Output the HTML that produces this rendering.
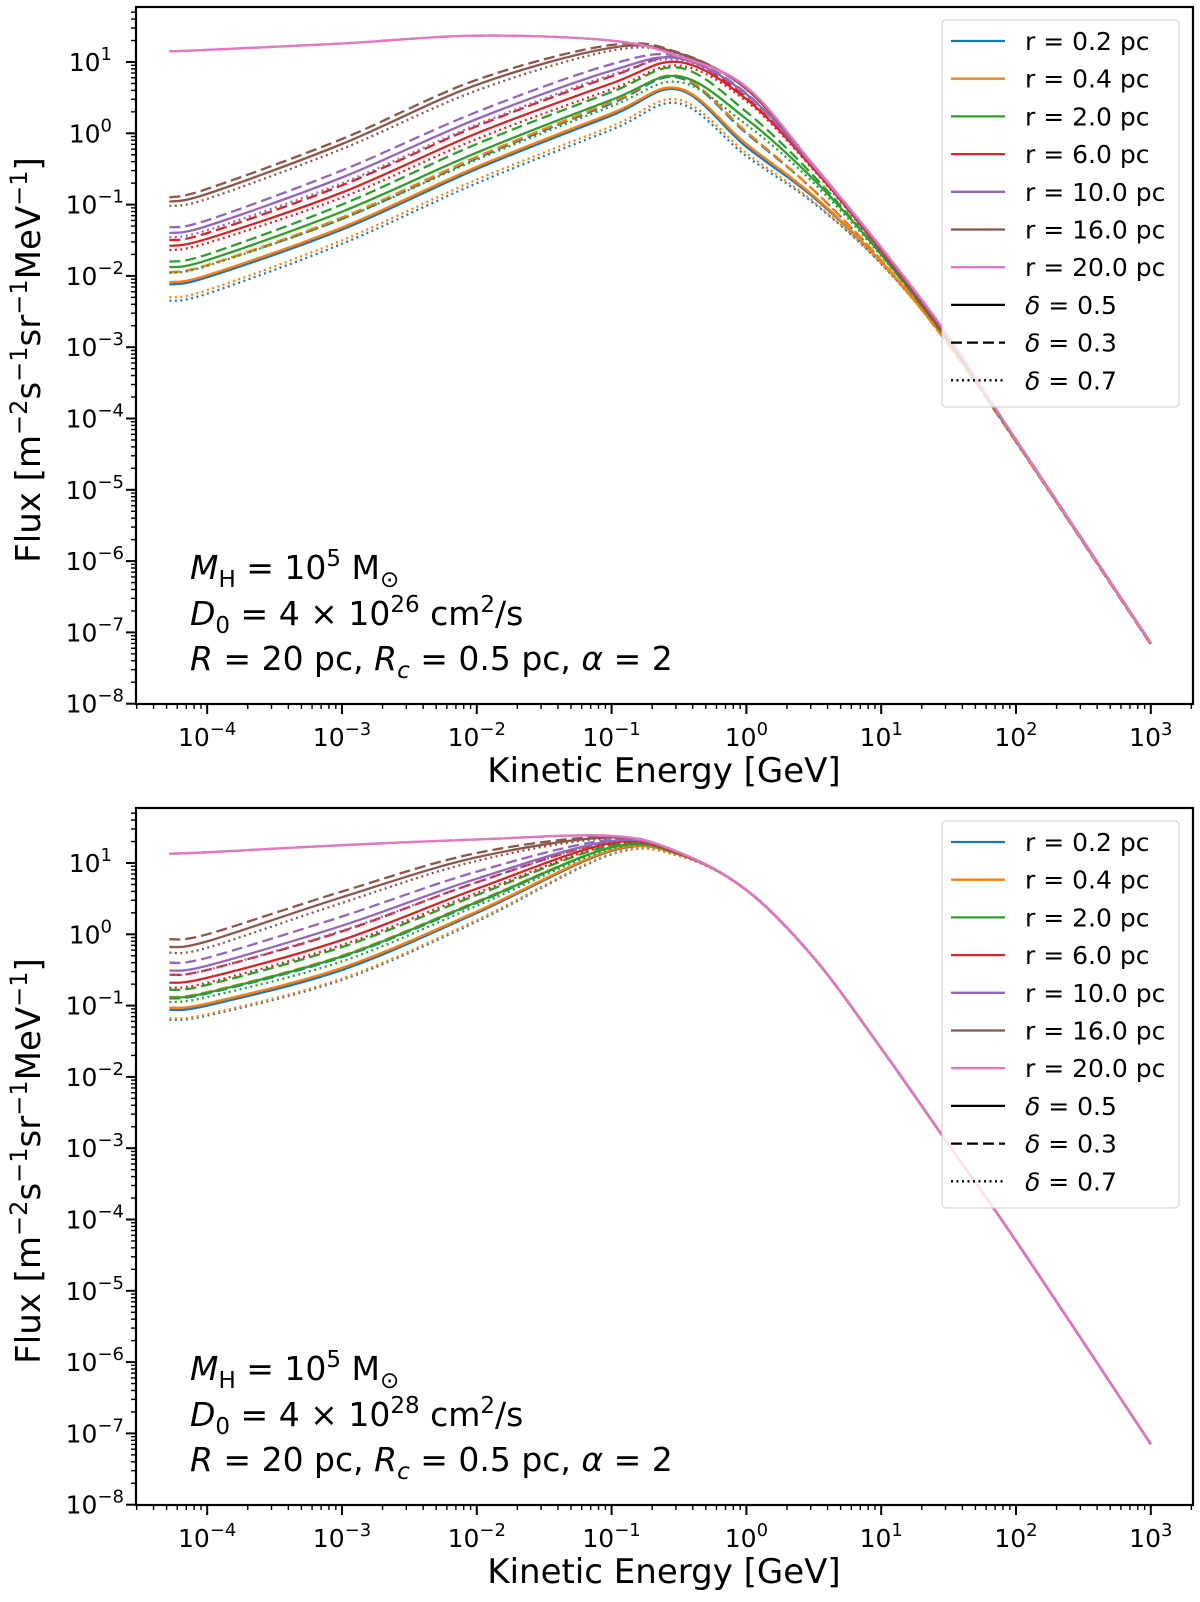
<!DOCTYPE html>
<html><head><meta charset="utf-8">
<style>
html,body{margin:0;padding:0;background:#fff;}
svg{display:block;font-family:"DejaVu Sans","Liberation Sans",sans-serif;}
</style></head>
<body>
<svg id="fig" width="1200" height="1602" viewBox="0 0 1200 1602" xmlns="http://www.w3.org/2000/svg"></svg>
<script>
// ---- shared data ----
const logEnergyGrid = [-4.28,-4,-3,-2,-1,-0.5,0,0.5,1,1.5,2,3];
const radiusLabels = ["r = 0.2 pc","r = 0.4 pc","r = 2.0 pc","r = 6.0 pc","r = 10.0 pc","r = 16.0 pc","r = 20.0 pc"];
const deltaLabels = ["0.5","0.3","0.7"];
const xTickExps = [-4,-3,-2,-1,0,1,2,3];
const yTickExps = [-8,-7,-6,-5,-4,-3,-2,-1,0,1];

// ---- top panel (D0 = 4e26) log10 flux; per radius: [solid, dashed, dotted] ----
const topBlue = [[-2.12,-2.02,-1.35,-0.5,0.25,0.61,-0.19,-0.9,-1.8,-2.95,-4.3,-7.15],[-1.95,-1.85,-1.2,-0.35,0.42,0.78,0.0,-0.8,-1.78,-2.97,-4.33,-7.17],[-2.35,-2.25,-1.55,-0.7,0.05,0.42,-0.32,-0.98,-1.83,-2.95,-4.3,-7.15]];
const topOrange = [[-2.09,-1.99,-1.32,-0.47,0.28,0.63,-0.15,-0.88,-1.8,-2.95,-4.3,-7.15],[-1.95,-1.85,-1.18,-0.33,0.44,0.8,0.02,-0.8,-1.78,-2.97,-4.33,-7.17],[-2.3,-2.2,-1.5,-0.65,0.1,0.47,-0.28,-0.96,-1.83,-2.95,-4.3,-7.15]];
const topGreen = [[-1.88,-1.78,-1.1,-0.27,0.47,0.8,0.2,-0.65,-1.7,-2.92,-4.3,-7.15],[-1.8,-1.7,-1.0,-0.15,0.58,0.92,0.3,-0.6,-1.7,-2.93,-4.32,-7.16],[-1.96,-1.86,-1.2,-0.37,0.38,0.72,0.12,-0.7,-1.72,-2.92,-4.3,-7.15]];
const topRed = [[-1.58,-1.48,-0.83,0.0,0.7,1.0,0.48,-0.5,-1.65,-2.9,-4.3,-7.15],[-1.5,-1.4,-0.73,0.1,0.8,1.06,0.5,-0.5,-1.65,-2.9,-4.3,-7.15],[-1.64,-1.54,-0.9,-0.08,0.62,0.95,0.45,-0.52,-1.66,-2.9,-4.3,-7.15]];
const topPurple = [[-1.4,-1.3,-0.62,0.2,0.88,1.05,0.55,-0.47,-1.63,-2.88,-4.3,-7.15],[-1.32,-1.22,-0.52,0.3,0.97,1.08,0.56,-0.47,-1.63,-2.88,-4.3,-7.15],[-1.46,-1.36,-0.7,0.12,0.82,1.03,0.54,-0.47,-1.63,-2.88,-4.3,-7.15]];
const topBrown = [[-0.96,-0.85,-0.15,0.68,1.2,1.12,0.62,-0.45,-1.62,-2.87,-4.3,-7.15],[-0.9,-0.78,-0.08,0.75,1.24,1.13,0.62,-0.45,-1.62,-2.87,-4.3,-7.15],[-1.02,-0.92,-0.22,0.6,1.16,1.11,0.62,-0.45,-1.62,-2.87,-4.3,-7.15]];
const topPink = [[1.15,1.17,1.26,1.37,1.3,1.08,0.65,-0.45,-1.6,-2.85,-4.3,-7.15],[1.15,1.17,1.26,1.37,1.3,1.08,0.65,-0.45,-1.6,-2.85,-4.3,-7.15],[1.15,1.17,1.26,1.37,1.3,1.08,0.65,-0.45,-1.6,-2.85,-4.3,-7.15]];

// ---- bottom panel (D0 = 4e28) ----
const botBlue = [[-1.06,-1.0,-0.5,0.3,1.17,1.12,0.62,-0.33,-1.6,-2.95,-4.3,-7.15],[-0.9,-0.83,-0.32,0.44,1.22,1.13,0.62,-0.33,-1.6,-2.95,-4.3,-7.15],[-1.2,-1.14,-0.64,0.18,1.12,1.1,0.62,-0.33,-1.6,-2.95,-4.3,-7.15]];
const botOrange = [[-1.03,-0.97,-0.47,0.32,1.18,1.12,0.62,-0.33,-1.6,-2.95,-4.3,-7.15],[-0.88,-0.81,-0.3,0.46,1.22,1.13,0.62,-0.33,-1.6,-2.95,-4.3,-7.15],[-1.18,-1.12,-0.62,0.2,1.13,1.1,0.62,-0.33,-1.6,-2.95,-4.3,-7.15]];
const botGreen = [[-0.89,-0.82,-0.31,0.45,1.22,1.13,0.62,-0.33,-1.6,-2.95,-4.3,-7.15],[-0.78,-0.71,-0.18,0.55,1.25,1.13,0.62,-0.33,-1.6,-2.95,-4.3,-7.15],[-0.95,-0.88,-0.38,0.4,1.2,1.12,0.62,-0.33,-1.6,-2.95,-4.3,-7.15]];
const botRed = [[-0.68,-0.61,-0.08,0.64,1.28,1.13,0.62,-0.33,-1.6,-2.95,-4.3,-7.15],[-0.57,-0.5,0.04,0.73,1.3,1.14,0.62,-0.33,-1.6,-2.95,-4.3,-7.15],[-0.75,-0.68,-0.15,0.58,1.26,1.13,0.62,-0.33,-1.6,-2.95,-4.3,-7.15]];
const botPurple = [[-0.51,-0.44,0.12,0.78,1.31,1.14,0.62,-0.33,-1.6,-2.95,-4.3,-7.15],[-0.4,-0.33,0.25,0.88,1.33,1.14,0.62,-0.33,-1.6,-2.95,-4.3,-7.15],[-0.57,-0.5,0.05,0.73,1.3,1.14,0.62,-0.33,-1.6,-2.95,-4.3,-7.15]];
const botBrown = [[-0.18,-0.1,0.52,1.08,1.36,1.14,0.62,-0.33,-1.6,-2.95,-4.3,-7.15],[-0.07,0.0,0.6,1.14,1.37,1.14,0.62,-0.33,-1.6,-2.95,-4.3,-7.15],[-0.26,-0.19,0.44,1.03,1.35,1.14,0.62,-0.33,-1.6,-2.95,-4.3,-7.15]];
const botPink = [[1.13,1.15,1.25,1.33,1.38,1.15,0.62,-0.33,-1.6,-2.95,-4.3,-7.15],[1.13,1.15,1.25,1.33,1.38,1.15,0.62,-0.33,-1.6,-2.95,-4.3,-7.15],[1.13,1.15,1.25,1.33,1.38,1.15,0.62,-0.33,-1.6,-2.95,-4.3,-7.15]];

const colors = ["#1f77b4","#ff7f0e","#2ca02c","#d62728","#9467bd","#8c564b","#e377c2"];
const dashes = [null,"11,5","2,3.5"];
const NS = "http://www.w3.org/2000/svg";
const svg = document.getElementById('fig');
function mk(tag, attrs, parent){const e=document.createElementNS(NS,tag);for(const k in attrs)e.setAttribute(k,attrs[k]);(parent||svg).appendChild(e);return e;}

const X0=136, X1=1193, XMIN=-4.528, XMAX=3.313;
function xs(l){return X0+(l-XMIN)/(XMAX-XMIN)*(X1-X0);}

function panel(top, series, D0exp, tag){
  const bottom = top+697;
  const ys = l => top+55+(1-l)*71.3;
  const g = mk('g',{});
  
  
  const cp = mk('clipPath',{id:'clip-'+tag}, g);
  mk('rect',{x:X0,y:top,width:X1-X0,height:697},cp);
  const lines = mk('g',{'clip-path':'url(#clip-'+tag+')'},g);
  series.forEach((rs,ri)=>{
    rs.forEach((vals,di)=>{
      const pts = logEnergyGrid.map((le,i)=>[xs(le),ys(vals[i])]);
      let d = 'M'+pts[0][0].toFixed(1)+','+pts[0][1].toFixed(1);
      for(let i=0;i<pts.length-1;i++){
        const p0=pts[Math.max(i-1,0)],p1=pts[i],p2=pts[i+1],p3=pts[Math.min(i+2,pts.length-1)];
        const t=6;
        const c1=[p1[0]+(p2[0]-p0[0])/t,p1[1]+(p2[1]-p0[1])/t];
        const c2=[p2[0]-(p3[0]-p1[0])/t,p2[1]-(p3[1]-p1[1])/t];
        d+=' C'+c1[0].toFixed(1)+','+c1[1].toFixed(1)+' '+c2[0].toFixed(1)+','+c2[1].toFixed(1)+' '+p2[0].toFixed(1)+','+p2[1].toFixed(1);
      }
      const a={d:d,fill:'none',stroke:colors[ri],'stroke-width':2.3};
      if(dashes[di])a['stroke-dasharray']=dashes[di];
      const p=mk('path',a,lines);
      
      
    });
  });
  const fr=mk('rect',{x:X0,y:top,width:X1-X0,height:697,fill:'none',stroke:'#000','stroke-width':2.2},g);
  
  
  for(let e=-5;e<=3;e++){
    for(let m=1;m<10;m++){
      const l=e+Math.log10(m); if(l<XMIN||l>XMAX)continue;
      const x=xs(l); const len=m===1?10:5;
      mk('line',{x1:x,y1:bottom,x2:x,y2:bottom+len,stroke:'#000','stroke-width':m===1?2:1.4},g);
    }
  }
  xTickExps.forEach(e=>{
    const t=mk('text',{x:xs(e),y:bottom+42,'font-size':25,'text-anchor':'middle'},g);
    
    
    t.innerHTML='10<tspan dy="-11" font-size="18">'+(e<0?'\u2212'+(-e):e)+'</tspan>';
  });
  for(let e=-9;e<=1;e++){
    for(let m=1;m<10;m++){
      const l=e+Math.log10(m); const y=ys(l); if(y<top||y>bottom+0.5)continue;
      const len=m===1?10:5;
      mk('line',{x1:X0,y1:y,x2:X0-len,y2:y,stroke:'#000','stroke-width':m===1?2:1.4},g);
    }
  }
  yTickExps.forEach(e=>{
    const t=mk('text',{x:e<0?124:112,y:ys(e)+9,'font-size':25,'text-anchor':'end'},g);
    
    
    t.innerHTML='10<tspan dy="-11" font-size="18">'+(e<0?'\u2212'+(-e):e)+'</tspan>';
  });
  const xl=mk('text',{x:664,y:bottom+78,'font-size':34,'text-anchor':'middle'},g);
  
  
  xl.textContent='Kinetic Energy [GeV]';
  const cy=top+353;
  const yl=mk('text',{x:0,y:0,'font-size':34,'text-anchor':'middle',transform:'translate(40,'+cy+') rotate(-90)'},g);
  
  
  yl.innerHTML='Flux [m<tspan dy="-13" font-size="24">\u22122</tspan><tspan dy="13">s</tspan><tspan dy="-13" font-size="24">\u22121</tspan><tspan dy="13">sr</tspan><tspan dy="-13" font-size="24">\u22121</tspan><tspan dy="13">MeV</tspan><tspan dy="-13" font-size="24">\u22121</tspan><tspan dy="13">]</tspan>';
  const a1=mk('text',{x:190,y:top+572,'font-size':33},g);
  
  
  a1.innerHTML='<tspan font-style="italic">M</tspan><tspan dy="8" font-size="23">H</tspan><tspan dy="-8"> = 10</tspan><tspan dy="-13" font-size="23">5</tspan><tspan dy="13"> M</tspan><tspan dy="8" font-size="23">\u2299</tspan>';
  const a2=mk('text',{x:190,y:top+618,'font-size':33},g);
  
  
  a2.innerHTML='<tspan font-style="italic">D</tspan><tspan dy="8" font-size="23">0</tspan><tspan dy="-8"> = 4 \u00d7 10</tspan><tspan dy="-13" font-size="23">'+D0exp+'</tspan><tspan dy="13"> cm</tspan><tspan dy="-13" font-size="23">2</tspan><tspan dy="13">/s</tspan>';
  const a3=mk('text',{x:190,y:top+663,'font-size':33},g);
  
  
  a3.innerHTML='<tspan font-style="italic">R</tspan> = 20 pc, <tspan font-style="italic">R</tspan><tspan dy="8" font-size="23" font-style="italic">c</tspan><tspan dy="-8"> = 0.5 pc, </tspan><tspan font-style="italic">\u03b1</tspan> = 2';
  const lg=mk('g',{},g);
  
  
  mk('rect',{x:942,y:top+13,width:237,height:387,rx:4,fill:'#fff','fill-opacity':0.8,stroke:'#ccc','stroke-width':1},lg);
  const entries=radiusLabels.map((t,i)=>({t:t,c:colors[i],d:null,delta:false})).concat(deltaLabels.map((t,i)=>({t:t,c:'#000',d:dashes[i],delta:true})));
  entries.forEach((en,i)=>{
    const y=top+34+i*37.7;
    const la={x1:951,y1:y,x2:1005,y2:y,stroke:en.c,'stroke-width':2.3};
    if(en.d)la['stroke-dasharray']=en.d;
    const ln=mk('line',la,lg);
    
    
    const tx=mk('text',{x:1025,y:y+9,'font-size':25},lg);
    
    
    if(en.delta) tx.innerHTML='<tspan font-style="italic">\u03b4</tspan> = '+en.t; else tx.textContent=en.t;
  });
}
const topSeries=[topBlue,topOrange,topGreen,topRed,topPurple,topBrown,topPink];
const botSeries=[botBlue,botOrange,botGreen,botRed,botPurple,botBrown,botPink];
panel(7, topSeries, '26', 'top');
panel(808, botSeries, '28', 'bottom');
</script>
</body></html>
